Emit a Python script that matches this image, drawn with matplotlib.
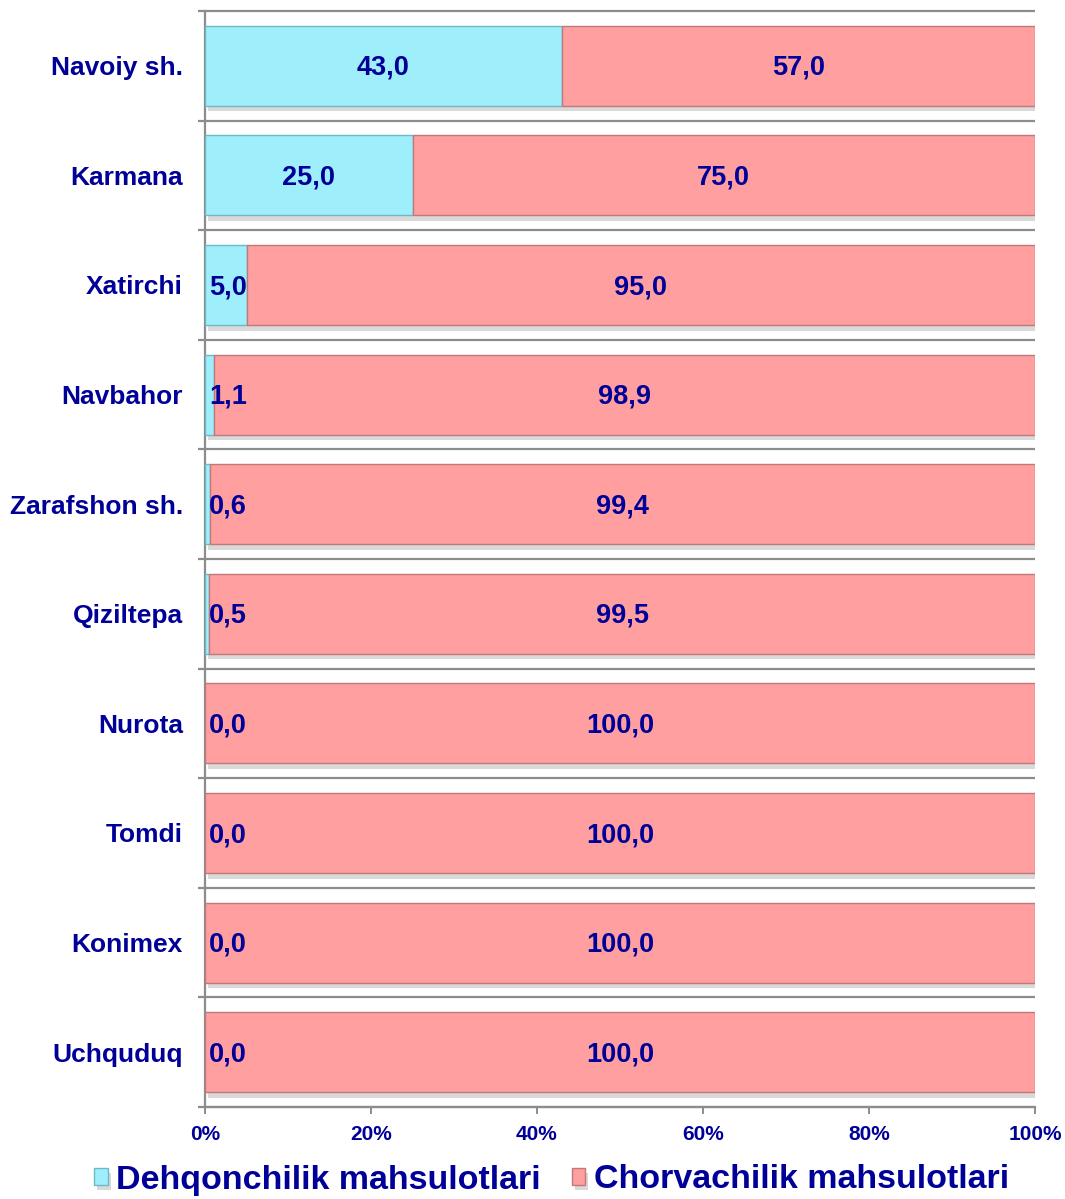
import matplotlib
matplotlib.use("Agg")
import matplotlib.pyplot as plt
import matplotlib.patheffects as pe
import numpy as np

plt.rcParams['font.family'] = ['Liberation Sans', 'DejaVu Sans']
plt.rcParams['font.weight'] = 'bold'

categories = ["Navoiy sh.", "Karmana", "Xatirchi", "Navbahor", "Zarafshon sh.",
              "Qiziltepa", "Nurota", "Tomdi", "Konimex", "Uchquduq"]
dehqon = [43.0, 25.0, 5.0, 1.1, 0.6, 0.5, 0.0, 0.0, 0.0, 0.0]
chorva = [57.0, 75.0, 95.0, 98.9, 99.4, 99.5, 100.0, 100.0, 100.0, 100.0]
series_names = ["Dehqonchilik mahsulotlari", "Chorvachilik mahsulotlari"]
xticks = [0, 20, 40, 60, 80, 100]

navy = "#000099"
blue = "#9EEEFC"
pink = "#FF9F9F"
grid_c = "#8C8C8C"

fig = plt.figure(figsize=(10.65, 11.99), dpi=100)
ax = fig.add_axes([205/1065, 1-1107/1199, (1035-205)/1065, (1107-11)/1199])

y = np.arange(len(categories))
h = 0.73
shadow = [pe.SimplePatchShadow(offset=(2, -4), shadow_rgbFace="#a0a0a0", alpha=0.4), pe.Normal()]

b1 = ax.barh(y, dehqon, height=h, color=blue, edgecolor="#6FB8C6", linewidth=1.0,
             label=series_names[0], zorder=3)
b2 = ax.barh(y, chorva, left=dehqon, height=h, color=pink, edgecolor="#C07878", linewidth=1.0,
             label=series_names[1], zorder=3)
for p in list(b1) + list(b2):
    p.set_path_effects(shadow)

for i, (d, c) in enumerate(zip(dehqon, chorva)):
    xd = max(d / 2, 2.8)
    ax.text(xd, i + 0.02, f"{d:.1f}".replace(".", ","), ha="center", va="center",
            color=navy, fontsize=19.5, fontweight="bold", zorder=5)
    ax.text(d + c / 2, i + 0.02, f"{c:.1f}".replace(".", ","), ha="center", va="center",
            color=navy, fontsize=19.5, fontweight="bold", zorder=5)

ax.set_xlim(0, 100)
ax.set_ylim(len(categories) - 0.5, -0.5)

bounds = np.arange(len(categories) + 1) - 0.5
ax.hlines(bounds, -0.85, 100, colors=grid_c, linewidth=1.6, clip_on=False, zorder=1)

for s in ["top", "right"]:
    ax.spines[s].set_visible(False)
ax.spines["left"].set_color(grid_c)
ax.spines["left"].set_linewidth(1.6)
ax.spines["bottom"].set_color(grid_c)
ax.spines["bottom"].set_linewidth(1.6)

ax.set_yticks(y)
ax.set_yticklabels(categories, color=navy, fontsize=19, fontweight="bold")
ax.tick_params(axis="y", length=0, pad=16)

ax.set_xticks(xticks)
ax.set_xticklabels([f"{t}%" for t in xticks], color=navy, fontsize=15, fontweight="bold")
ax.tick_params(axis="x", length=5, width=1.4, color=grid_c, pad=8)

leg = fig.legend(handles=[b1, b2], labels=series_names, loc="center",
                 bbox_to_anchor=(0.518, 1 - 1180/1199), ncol=2, frameon=False,
                 handlelength=0.4, handleheight=0.4, handletextpad=0.25,
                 columnspacing=0.9, prop={"size": 24.5, "weight": "bold"})
for t in leg.get_texts():
    t.set_color(navy)

fig.savefig("out.png", dpi=100)
